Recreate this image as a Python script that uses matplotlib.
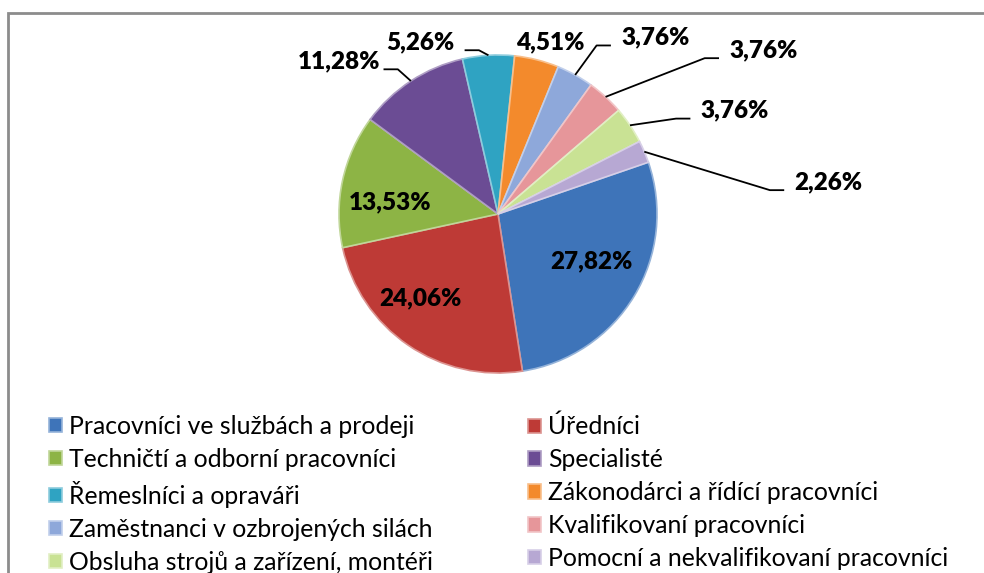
import numpy as np
import matplotlib.pyplot as plt
import matplotlib.colors as mcolors
from matplotlib.patches import Rectangle

# Data
categories = [
    'Pracovníci ve službách a prodeji', 'Úředníci',
    'Techničtí a odborní pracovníci', 'Specialisté',
    'Řemeslníci a opraváři', 'Zákonodárci a řídící pracovníci',
    'Zaměstnanci v ozbrojených silách', 'Kvalifikovaní pracovníci',
    'Obsluha strojů a zařízení, montéři', 'Pomocní a nekvalifikovaní pracovníci',
]
shares = [27.82, 24.06, 13.53, 11.28, 5.26, 4.51, 3.76, 3.76, 3.76, 2.26]
colors = ['#3E74B9', '#BE3A36', '#8DB445', '#6B4C94', '#2FA3C2',
          '#F38A2C', '#8EA8DA', '#E6969A', '#C9E294', '#B7A8D3']

# Layout (pixels)
W, H = 984, 573
cx, cy, R = 498, 214, 159
# label centers relative to pie center, in pie radii
label_pos = [(0.59, -0.30), (-0.49, -0.53), (-0.68, 0.075), (-1.0, 0.96),
             (-0.49, 1.08), (0.33, 1.08), (0.99, 1.11), (1.67, 1.03),
             (1.49, 0.65), (2.08, 0.20)]
inside = [True, True, True, False, False, False, False, False, False, False]

fig = plt.figure(figsize=(W / 100, H / 100), dpi=100)
ax = fig.add_axes([0, 0, 1, 1])

def lighter(c, f=0.45):
    rgb = np.array(mcolors.to_rgb(c))
    return tuple(rgb + (1 - rgb) * f)

wedges, _ = ax.pie(shares, colors=colors, startangle=19, counterclock=False,
                   radius=1.0, center=(0, 0),
                   wedgeprops=dict(linewidth=1.2))
for w, c in zip(wedges, colors):
    w.set_edgecolor(lighter(c))

ax.set_xlim(-cx / R, (W - cx) / R)
ax.set_ylim(-(H - cy) / R, cy / R)
ax.set_aspect('equal')
ax.axis('off')

lab_font = dict(family=['Lato', 'DejaVu Sans'], fontsize=17.5, fontweight='heavy',
                color='black')
for w, v, (lx, ly), ins in zip(wedges, shares, label_pos, inside):
    txt = f'{v:.2f}%'.replace('.', ',')
    ax.text(lx, ly, txt, ha='center', va='center', **lab_font)
    if ins or v == 4.51:
        continue
    mid = np.radians((w.theta1 + w.theta2) / 2)
    ex, ey = np.cos(mid), np.sin(mid)
    half = 0.25
    if lx < 0:
        ax.plot([ex, lx + half + 0.12, lx + half + 0.03], [ey, ly - 0.05, ly - 0.05],
                color='black', lw=1.3, solid_capstyle='butt')
    else:
        ax.plot([ex, lx - half - 0.12, lx - half - 0.03], [ey, ly - 0.05, ly - 0.05],
                color='black', lw=1.3, solid_capstyle='butt')

# Chart border
fig.add_artist(Rectangle((8 / W, -0.1), 1.2, (H - 13) / H + 0.1,
                         transform=fig.transFigure, fill=False,
                         edgecolor='#8C8C8C', linewidth=2))

# Legend in two columns
leg_font = dict(family=['Lato', 'DejaVu Sans'], size=17.8)
for col, x0 in ((0, 49), (1, 528)):
    leg = fig.legend(wedges[col::2], categories[col::2],
                     loc='upper left', bbox_to_anchor=(x0 / W, 1 - 415 / H),
                     frameon=False, prop=leg_font, handlelength=0.52,
                     handleheight=0.52, handletextpad=0.3, labelspacing=0.4,
                     borderaxespad=0, borderpad=0)

fig.savefig('out.png', dpi=100)
